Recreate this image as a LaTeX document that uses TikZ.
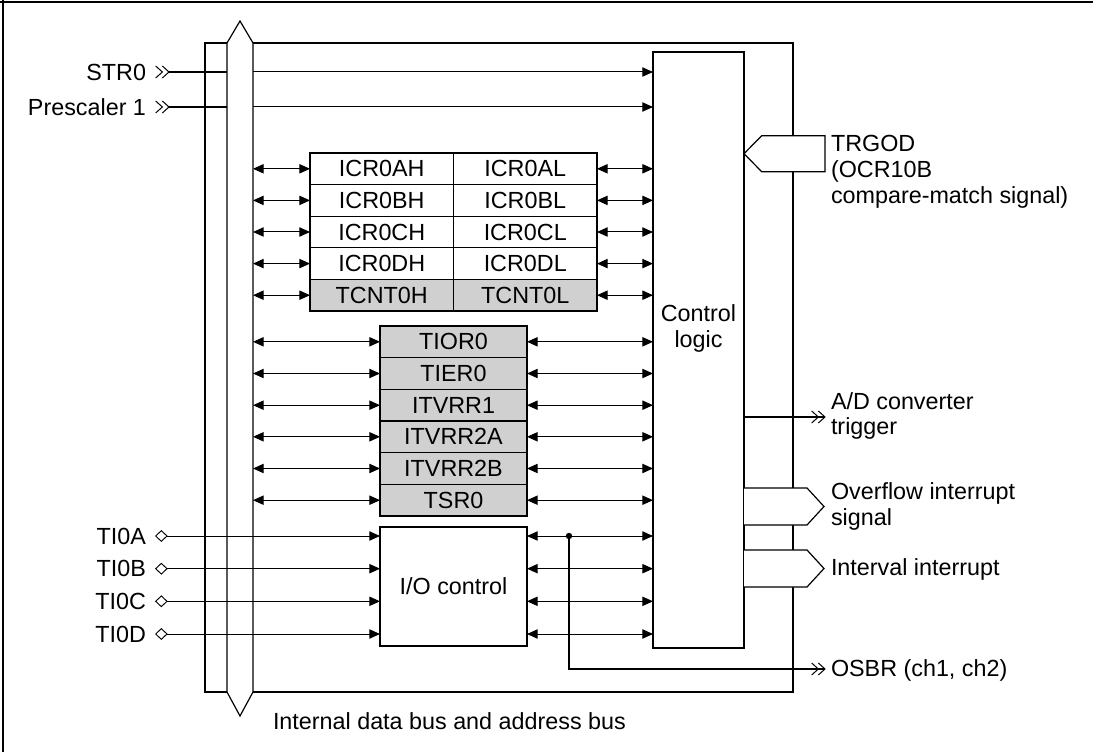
\documentclass[tikz,border=0pt]{standalone}
\usepackage{fontspec}
\setmainfont{Liberation Sans}
\usetikzlibrary{arrows.meta}
\definecolor{regfill}{RGB}{208,208,208}
\tikzset{
  ln/.style={line width=0.9pt},
  lbl/.style={font=\fontsize{17.5}{21}\selectfont, inner sep=0pt, outer sep=0pt},
  box/.style={draw, line width=0.9pt, inner sep=0pt, outer sep=0pt, font=\fontsize{17.5}{21}\selectfont},
  reg/.style={box, minimum width=107.6pt, minimum height=23.7pt},
  reg2/.style={box, fill=regfill, minimum width=110.25pt, minimum height=23.75pt},
  tipA/.tip={Triangle[length=8pt,width=7pt]},
  bi/.style={line width=0.75pt, tipA-tipA},
  uni/.style={line width=0.75pt, -tipA},
  chev/.pic={\draw[line width=0.75pt, line join=miter] (-10pt,-4.5pt) -- (-5pt,0pt) -- (-10pt,4.5pt) (-5pt,-4.5pt) -- (0pt,0pt) -- (-5pt,4.5pt);},
  dia/.pic={\draw[line width=0.7pt, fill=white] (-8.5pt,0pt) -- (-4.25pt,-4pt) -- (0pt,0pt) -- (-4.25pt,4pt) -- cycle;}
}
\begin{document}
\begin{tikzpicture}[x=0.75pt,y=-0.75pt]
\useasboundingbox (0,0) rectangle (1093,752);
% frame
\draw[line width=1.5pt] (0,2) -- (1093,2);
\draw[line width=1.5pt] (3,0) -- (3,752);

% module outline
\coordinate (busL) at (227,0);
\coordinate (busR) at (253,0);
\draw[ln] (227,43) -- (205,43) -- (205,692) -- (227,692);
\draw[ln] (253,43) -- (793,43) -- (793,692) -- (253,692);
% bus
\draw[ln] (227,692) -- (227,43) -- (240,21) -- (253,43) -- (253,692) -- (240,716) -- cycle;
\node[lbl, anchor=base west] (buslbl) at (273,729) {Internal data bus and address bus};

% control logic
\node[box, minimum width=68.25pt, minimum height=447pt] (ctl) at (698.5,350) {};
\node[lbl, anchor=base] (ctl1) at (698.5,321.7) {Control};
\node[lbl, anchor=base] (ctl2) at (698.5,347.7) {logic};

% STR0 / Prescaler
\node[lbl, anchor=east] (str) at (146,72) {STR0};
\node[lbl, anchor=east] (pre) at (146,107) {Prescaler 1};
\coordinate (strc) at (169,72);
\coordinate (prec) at (169,107);
\pic at (strc) {chev};
\pic at (prec) {chev};
\draw[ln] (strc) -- (busL |- strc);
\draw[uni] (busR |- strc) -- (ctl.west |- strc);
\draw[ln] (prec) -- (busL |- prec);
\draw[uni] (busR |- prec) -- (ctl.west |- prec);

% ICR registers
\node[reg] (r1h) at (381.75,168.8) {ICR0AH};
\node[reg] (r1l) at (525.25,168.8) {ICR0AL};
\node[reg] (r2h) at (381.75,200.4) {ICR0BH};
\node[reg] (r2l) at (525.25,200.4) {ICR0BL};
\node[reg] (r3h) at (381.75,232) {ICR0CH};
\node[reg] (r3l) at (525.25,232) {ICR0CL};
\node[reg] (r4h) at (381.75,263.6) {ICR0DH};
\node[reg] (r4l) at (525.25,263.6) {ICR0DL};
\node[reg, fill=regfill] (r5h) at (381.75,295.2) {TCNT0H};
\node[reg, fill=regfill] (r5l) at (525.25,295.2) {TCNT0L};
\foreach \h/\l in {r1h/r1l,r2h/r2l,r3h/r3l,r4h/r4l,r5h/r5l}{
  \draw[bi] (busR |- \h.west) -- (\h.west);
  \draw[bi] (\l.east) -- (ctl.west |- \l.east);
}

% control registers
\node[reg2] (tior) at (453.5,341.8) {TIOR0};
\node[reg2] (tier) at (453.5,373.5) {TIER0};
\node[reg2] (itv1) at (453.5,405.2) {ITVRR1};
\node[reg2] (itv2a) at (453.5,436.8) {ITVRR2A};
\node[reg2] (itv2b) at (453.5,468.5) {ITVRR2B};
\node[reg2] (tsr) at (453.5,500.2) {TSR0};
\foreach \r in {tior,tier,itv1,itv2a,itv2b,tsr}{
  \draw[bi] (busR |- \r.west) -- (\r.west);
  \draw[bi] (\r.east) -- (ctl.west |- \r.east);
}

% I/O control
\node[box, minimum width=110.25pt, minimum height=89.25pt] (io) at (453.5,586.5) {I/O control};
\foreach \n/\y/\t in {a/536/TI0A,b/568.7/TI0B,c/601.3/TI0C,d/634/TI0D}{
  \node[lbl, anchor=east] (ti\n) at (146,\y) {\t};
  \coordinate (tc\n) at (167,\y);
  \pic at (tc\n) {dia};
  \draw[uni] (tc\n) -- (io.west |- tc\n);
  \draw[bi] (io.east |- tc\n) -- (ctl.west |- tc\n);
}
\coordinate (dot) at (569,536);
\fill (dot) circle[radius=2.4pt];
\coordinate (osbr) at (825,669);
\draw[ln] (dot) -- (dot |- osbr) -- (osbr);
\pic at (osbr) {chev};
\node[lbl, anchor=base west] (osbrlbl) at (831,676.7) {OSBR (ch1, ch2)};

% TRGOD input
\draw[ln, fill=white] (ctl.east |- 0,153.7) -- (761.7,135.7) -- (825,135.7) -- (825,171.7) -- (761.7,171.7) -- cycle;
\node[lbl, anchor=base west] (trg1) at (831,151.7) {TRGOD};
\node[lbl, anchor=base west] (trg2) at (831,177.7) {(OCR10B};
\node[lbl, anchor=base west] (trg3) at (831,204) {compare-match signal)};

% A/D trigger
\coordinate (adc) at (825,417);
\draw[ln] (ctl.east |- adc) -- (adc);
\pic at (adc) {chev};
\node[lbl, anchor=base west] (ad1) at (831,410) {A/D converter};
\node[lbl, anchor=base west] (ad2) at (831,435) {trigger};

% interrupts
\draw[ln, fill=white] (ctl.east |- 0,488) -- (807,488) -- (824,506.5) -- (807,525) -- (ctl.east |- 0,525);
\node[lbl, anchor=base west] (ov1) at (831,499) {Overflow interrupt};
\node[lbl, anchor=base west] (ov2) at (831,525.7) {signal};
\draw[ln, fill=white] (ctl.east |- 0,550) -- (807,550) -- (824,568.5) -- (807,587) -- (ctl.east |- 0,587);
\node[lbl, anchor=base west] (iv) at (831,575) {Interval interrupt};
\end{tikzpicture}
\end{document}
